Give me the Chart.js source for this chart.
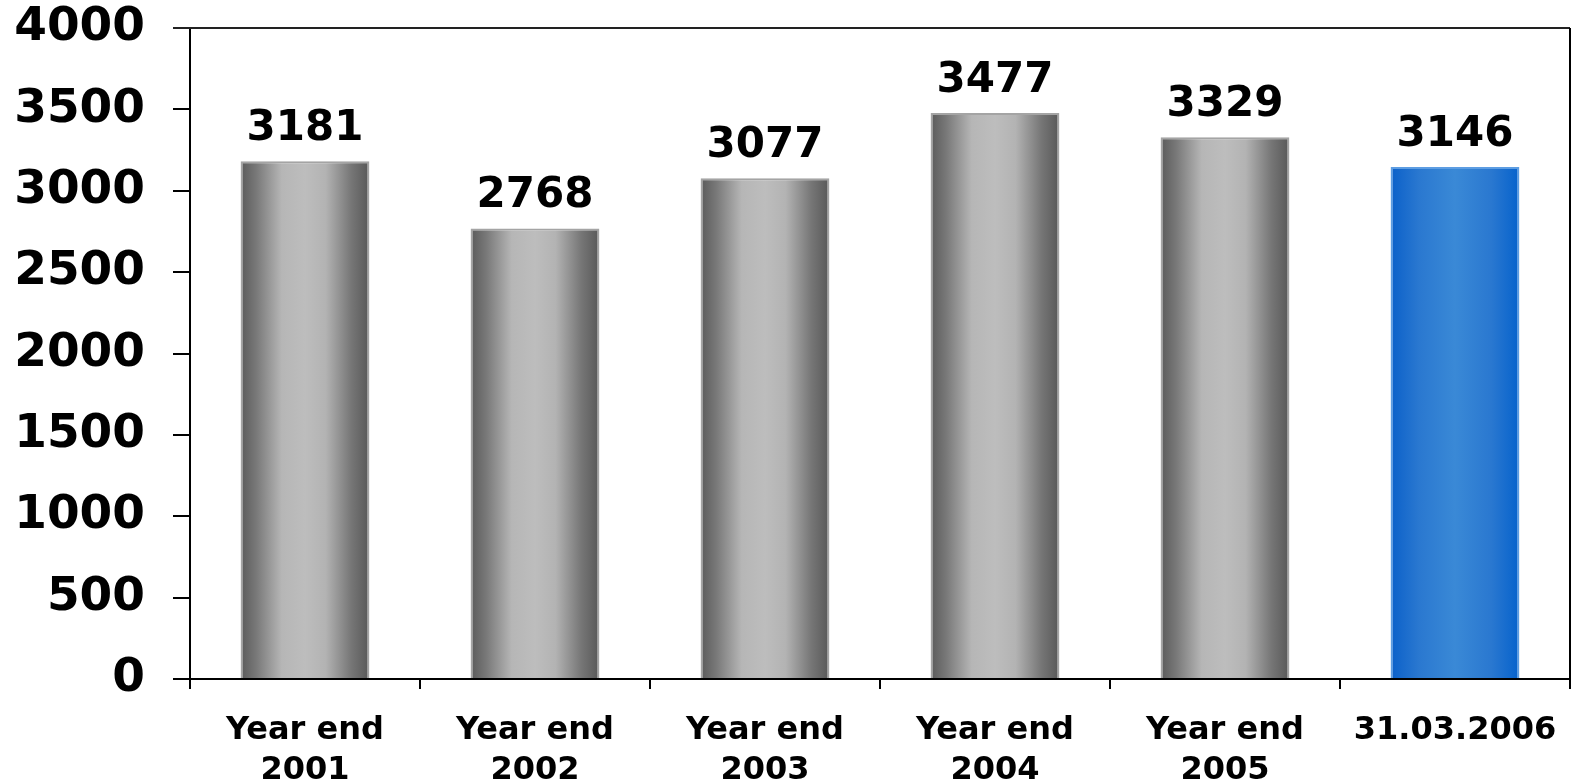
<!DOCTYPE html>
<html>
<head>
<meta charset="utf-8">
<script src="https://cdn.jsdelivr.net/npm/chart.js@4"></script>
<style>
  html, body { margin: 0; padding: 0; background: #fff; }
  #wrap { width: 1579px; height: 783px; }
</style>
</head>
<body>
<div id="wrap"><canvas id="staff"></canvas></div>
<script>
const categories = [
  ['Year end', '2001'],
  ['Year end', '2002'],
  ['Year end', '2003'],
  ['Year end', '2004'],
  ['Year end', '2005'],
  '31.03.2006',
];
const headcount = [3181, 2768, 3077, 3477, 3329, 3146];
const highlighted = [false, false, false, false, false, true];

const yMin = 0;
const yMax = 4000;
const yStep = 500;

const FONT = 'DejaVu Sans';
const BAR_PCT = 0.56;

const greyStops = [[0, '#5a5a5a'], [0.12, '#787878'], [0.32, '#b6b6b6'], [0.5, '#bdbdbd'], [0.66, '#b3b3b3'], [0.86, '#767676'], [1, '#585858']];
const blueStops = [[0, '#0b60c9'], [0.22, '#2a78d0'], [0.5, '#3a89d6'], [0.78, '#2a78d0'], [1, '#0662cc']];

// horizontal cylinder-like shading across each bar
function barFill(ctx) {
  const chart = ctx.chart;
  if (!chart.chartArea || !chart.scales.x) return '#999';
  const x = chart.scales.x;
  const cx = x.getPixelForValue(ctx.dataIndex);
  const half = (x.width / categories.length) * BAR_PCT / 2;
  const g = chart.ctx.createLinearGradient(cx - half, 0, cx + half, 0);
  const stops = highlighted[ctx.dataIndex] ? blueStops : greyStops;
  stops.forEach(([o, c]) => g.addColorStop(o, c));
  return g;
}

// value above each bar, plus the closed top/right frame
const valueLabels = {
  id: 'valueLabels',
  afterDatasetsDraw(chart) {
    const { ctx } = chart;
    const meta = chart.getDatasetMeta(0);
    ctx.save();
    ctx.font = `bold 42px "${FONT}"`;
    ctx.fillStyle = '#000';
    ctx.textAlign = 'center';
    ctx.textBaseline = 'bottom';
    meta.data.forEach((bar, i) => {
      ctx.fillText(String(headcount[i]), bar.x, bar.y - 11);
    });
    ctx.restore();
  },
  beforeDatasetsDraw(chart) {
    const { ctx, chartArea: a } = chart;
    ctx.save();
    ctx.lineWidth = 2;
    ctx.strokeStyle = '#222';
    ctx.beginPath();
    ctx.moveTo(a.left - 17, a.top);
    ctx.lineTo(a.right, a.top);
    ctx.stroke();
    ctx.strokeStyle = '#000';
    ctx.beginPath();
    ctx.moveTo(a.right, a.top);
    ctx.lineTo(a.right, a.bottom);
    ctx.stroke();
    ctx.restore();
  },
};

new Chart(document.getElementById('staff'), {
  type: 'bar',
  data: {
    labels: categories,
    datasets: [{
      data: headcount,
      backgroundColor: barFill,
      borderColor: highlighted.map(h => (h ? '#5d9de2' : '#a4a4a4')),
      borderWidth: 2,
      borderSkipped: 'bottom',
      barPercentage: BAR_PCT,
      categoryPercentage: 1,
    }],
  },
  options: {
    responsive: true,
    maintainAspectRatio: false,
    animation: false,
    layout: { padding: { top: 0, right: 9, left: 0, bottom: 0 } },
    plugins: { legend: { display: false }, tooltip: { enabled: false } },
    scales: {
      x: {
        grid: { display: true, drawOnChartArea: false, offset: true, tickLength: 10, color: '#000', lineWidth: 2 },
        border: { display: true, color: '#000', width: 2 },
        ticks: {
          color: '#000',
          font: { family: FONT, weight: 'bold', size: 32, lineHeight: 1.25 },
          padding: 22,
          maxRotation: 0,
          autoSkip: false,
        },
        afterFit(scale) { scale.height = 104; },
      },
      y: {
        min: yMin,
        max: yMax,
        grid: { display: true, drawOnChartArea: false, tickLength: 17, color: '#000', lineWidth: 2 },
        border: { display: true, color: '#000', width: 2 },
        ticks: {
          stepSize: yStep,
          color: '#000',
          font: { family: FONT, weight: 'bold', size: 47 },
          padding: 28,
          callback: v => String(v),
        },
        afterFit(scale) {
          scale.width = 190;
          scale.paddingTop = 28;
          scale.paddingBottom = 0;
        },
      },
    },
  },
  plugins: [valueLabels],
});
</script>
</body>
</html>
